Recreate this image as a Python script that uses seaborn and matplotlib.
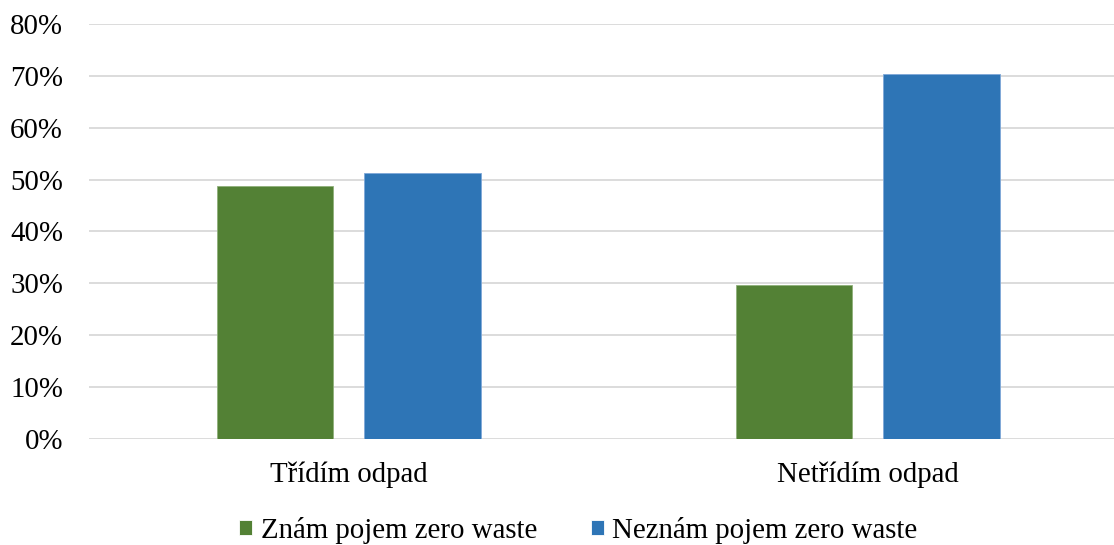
import matplotlib
matplotlib.use("Agg")
import matplotlib.pyplot as plt
import seaborn as sns
import pandas as pd
from matplotlib.ticker import PercentFormatter

categories = ["Třídím odpad", "Netřídím odpad"]
series = ["Znám pojem zero waste", "Neznám pojem zero waste"]
known = [0.488, 0.296]
unknown = [0.512, 0.704]
y_ticks = [0.0, 0.1, 0.2, 0.3, 0.4, 0.5, 0.6, 0.7, 0.8]

colors = ["#538135", "#2E75B6"]
edges = ["#8fb07a", "#7fa8d8"]

df = pd.DataFrame({
    "kategorie": categories * 2,
    "skupina": [series[0]] * len(categories) + [series[1]] * len(categories),
    "podil": known + unknown,
})

sns.set_style("white")
plt.rcParams["font.family"] = ["Liberation Serif", "DejaVu Serif"]
plt.rcParams["text.color"] = "black"
plt.rcParams["xtick.color"] = "black"
plt.rcParams["ytick.color"] = "black"

fig = plt.figure(figsize=(11.14, 5.45), dpi=100)
ax = fig.add_axes([0.0803, 0.1945, 0.9197, 0.7615])

sns.barplot(data=df, x="kategorie", y="podil", hue="skupina",
            order=categories, hue_order=series, palette=colors,
            width=0.569, gap=0.21, ax=ax, saturation=1, linewidth=0.6)

# lighter outline in each series' own hue
for patch, edge in zip(ax.patches, [edges[0]] * 2 + [edges[1]] * 2):
    patch.set_edgecolor(edge)

ax.set_ylim(0, 0.8)
ax.set_xlim(-0.5, 1.474)
ax.set_yticks(y_ticks)
ax.yaxis.set_major_formatter(PercentFormatter(1.0, decimals=0))
ax.grid(axis="y", color="#d9d9d9", linewidth=1.3)
ax.set_axisbelow(True)
for s in ax.spines.values():
    s.set_visible(False)
ax.tick_params(axis="y", length=0, pad=19, labelsize=20.8, labelcolor="black")
ax.tick_params(axis="x", length=0, pad=16, labelsize=20.8, labelcolor="black")
ax.set_xlabel("")
ax.set_ylabel("")

leg = ax.legend(loc="upper center", bbox_to_anchor=(0.4772, -0.16), ncol=2,
                frameon=False, fontsize=20.8, handlelength=0.45, handleheight=0.45,
                handletextpad=0.3, columnspacing=1.85, borderaxespad=0)
for t in leg.get_texts():
    t.set_color("black")

fig.savefig("out.png", dpi=100)
